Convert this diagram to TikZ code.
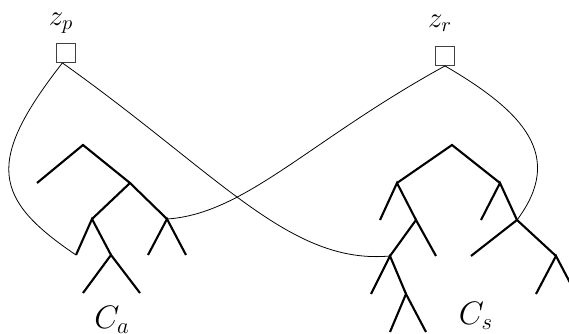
\documentclass[tikz,border=0pt]{standalone}
\usepackage{fix-cm}
\usepackage{tikz}

\begin{document}
\begin{tikzpicture}[
  x=0.02cm, y=-0.02cm,
  branch/.style={line width=1.2pt},
  link/.style={line width=0.45pt},
  factor/.style={rectangle, draw=black!75, line width=0.5pt, inner sep=0pt, minimum size=10.8pt},
  zlabel/.style={font=\fontsize{16.5}{18}\selectfont},
  clabel/.style={anchor=base, font=\fontsize{18.5}{20}\selectfont}
]
\useasboundingbox (0,0) rectangle (569,334);
\node[factor] (zp) at (66,53) {};
\node[factor] (zr) at (445,56) {};
\node[zlabel] (zplab) at (61,23) {$z_p$};
\node[zlabel] (zrlab) at (440,23) {$z_r$};
\coordinate (a0) at (83,145);  \coordinate (a1) at (37,183);  \coordinate (a2) at (130,183);
\coordinate (a3) at (92,219);  \coordinate (a4) at (167,219); \coordinate (a5) at (76,255);
\coordinate (a6) at (111,255); \coordinate (a7) at (83,293);  \coordinate (a8) at (140,293);
\coordinate (a9) at (148,255); \coordinate (a10) at (186,255);
\coordinate (s0) at (452,145); \coordinate (s1) at (397,183); \coordinate (s2) at (500,183);
\coordinate (s3) at (380,220); \coordinate (s4) at (416,220); \coordinate (s5) at (390,256);
\coordinate (s6) at (436,256); \coordinate (s7) at (371,294); \coordinate (s8) at (406,294);
\coordinate (s9) at (390,332); \coordinate (s10) at (426,332); \coordinate (s11) at (481,220);
\coordinate (s12) at (517,220); \coordinate (s13) at (471,256); \coordinate (s14) at (556,256);
\coordinate (s15) at (536,294); \coordinate (s16) at (576,294);
\draw[branch] (a1) -- (a0) -- (a2);
\draw[branch] (a3) -- (a2) -- (a4);
\draw[branch] (a5) -- (a3) -- (a6);
\draw[branch] (a7) -- (a6) -- (a8);
\draw[branch] (a9) -- (a4) -- (a10);
\draw[branch] (s1) -- (s0) -- (s2);
\draw[branch] (s3) -- (s1) -- (s4);
\draw[branch] (s5) -- (s4) -- (s6);
\draw[branch] (s7) -- (s5) -- (s8);
\draw[branch] (s9) -- (s8) -- (s10);
\draw[branch] (s11) -- (s2) -- (s12);
\draw[branch] (s13) -- (s12) -- (s14);
\draw[branch] (s15) -- (s14) -- (s16);
\draw[link] (zp.250) .. controls (-15,162) and (-7,199) .. (a5);
\draw[link] (zp.250) .. controls (220,175) and (290,265) .. (s5);
\draw[link] (zr.south) .. controls (310,140) and (245,214) .. (a4);
\draw[link] (zr.south) .. controls (524,112) and (565,156) .. (s12);
\node[clabel] (ca) at (112,329) {$C_a$};
\node[clabel] (cs) at (476,325) {$C_s$};
\end{tikzpicture}
\end{document}
